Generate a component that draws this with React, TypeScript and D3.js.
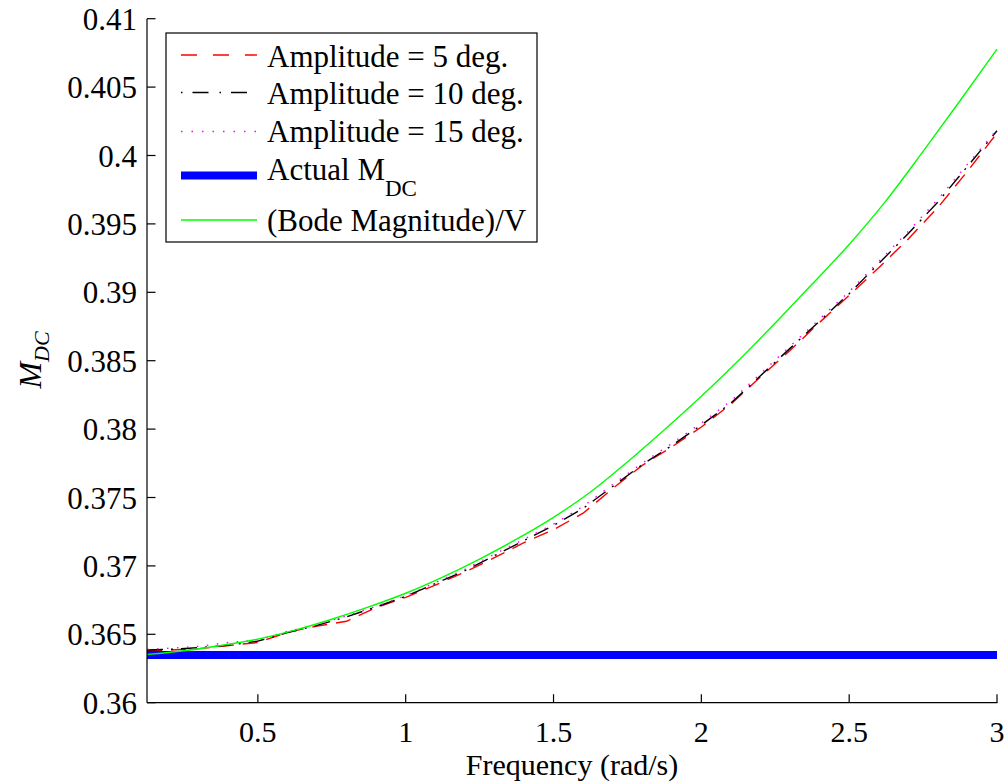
import React from "react";
import * as d3 from "d3";

const freq = [0.125, 0.2, 0.3, 0.4, 0.5, 0.6, 0.7, 0.8, 0.9, 1.0, 1.1, 1.2, 1.3, 1.4, 1.5, 1.6, 1.7, 1.8, 1.9, 2.0, 2.1, 2.2, 2.3, 2.4, 2.5, 2.6, 2.7, 2.8, 2.9, 3.0];
const amp5 = [0.3638, 0.36385, 0.36395, 0.36418, 0.3644, 0.36515, 0.3656, 0.36595, 0.36695, 0.3677, 0.3686, 0.36955, 0.3706, 0.3717, 0.37265, 0.37385, 0.37565, 0.37735, 0.3787, 0.38015, 0.38182, 0.38382, 0.38575, 0.3878, 0.38978, 0.3918, 0.3939, 0.3962, 0.39885, 0.40164];
const amp10 = [0.36385, 0.3639, 0.36402, 0.3642, 0.3645, 0.36512, 0.36565, 0.36628, 0.367, 0.36778, 0.3687, 0.36965, 0.37075, 0.37185, 0.37295, 0.3742, 0.3758, 0.3774, 0.3788, 0.3803, 0.3819, 0.3839, 0.3859, 0.3879, 0.3899, 0.3921, 0.3943, 0.3966, 0.3992, 0.40181];
const amp15 = [0.3639, 0.36398, 0.36412, 0.3644, 0.36458, 0.36522, 0.3657, 0.36635, 0.36705, 0.36782, 0.36878, 0.36975, 0.37085, 0.37195, 0.37305, 0.37435, 0.37595, 0.3775, 0.37895, 0.38045, 0.38205, 0.38405, 0.38605, 0.38805, 0.39005, 0.39225, 0.39445, 0.3968, 0.39935, 0.4019];

const bodeFreq = [0.125, 0.25, 0.375, 0.5, 0.625, 0.75, 0.875, 1.0, 1.125, 1.25, 1.375, 1.5, 1.625, 1.75, 1.875, 2.0, 2.125, 2.25, 2.375, 2.5, 2.625, 2.75, 2.875, 3.0];
const bodeMag = [0.36353, 0.3638, 0.36418, 0.36465, 0.3653, 0.3661, 0.367, 0.368, 0.36918, 0.3705, 0.37195, 0.37355, 0.3754, 0.3776, 0.37995, 0.3824, 0.385, 0.38775, 0.3906, 0.3935, 0.3967, 0.4003, 0.404, 0.40778];

const actualMdc = 0.36349;

const xTicks = [0.5, 1, 1.5, 2, 2.5, 3];
const xTickLabels = ["0.5", "1", "1.5", "2", "2.5", "3"];
const yTicks = [0.36, 0.365, 0.37, 0.375, 0.38, 0.385, 0.39, 0.395, 0.4, 0.405, 0.41];
const yTickLabels = ["0.36", "0.365", "0.37", "0.375", "0.38", "0.385", "0.39", "0.395", "0.4", "0.405", "0.41"];

const legendLabels = ["Amplitude = 5 deg.", "Amplitude = 10 deg.", "Amplitude = 15 deg.", "Actual M", "(Bode Magnitude)/V"];

export default function App() {
  const W = 1008, H = 782;
  const x = d3.scaleLinear().domain([0.125, 3]).range([147, 997]);
  const y = d3.scaleLinear().domain([0.36, 0.41]).range([702.7, 18.7]);
  const line = d3.line<[number, number]>().x(d => x(d[0])).y(d => y(d[1]));
  const mk = (fs: number[], vs: number[]) => line(fs.map((f, i) => [f, vs[i]] as [number, number])) || "";
  const font = "'Liberation Serif', 'Times New Roman', Times, serif";
  const fs = 31;
  const fsx = 30;

  const styles = [
    { stroke: "#ff0000", width: 1.4, dash: "15,9" },
    { stroke: "#000000", width: 1.4, dash: "16,8,2,8" },
    { stroke: "#ff00ff", width: 1.4, dash: "1.5,8.5" },
    { stroke: "#0000ff", width: 8, dash: "" },
    { stroke: "#00ff00", width: 1.4, dash: "" },
  ];
  const legendDash = ["16,16", "1.5,10,16,11", "1.5,9", "", ""];
  const legendY = [55, 92.5, 131.5, 175.5, 220];
  const legendBase = [66.5, 103.5, 141.5, 179.5, 230.5];
  const lx = 166, ly = 33, lw = 371, lh = 209;

  return (
    <svg width={W} height={H} style={{ position: "absolute", left: 0, top: 0, background: "#fff", fontFamily: font }}>
      <rect x={0} y={0} width={W} height={H} fill="#fff" />
      {/* data lines */}
      <path d={mk(freq, amp5)} fill="none" stroke={styles[0].stroke} strokeWidth={styles[0].width} strokeDasharray={styles[0].dash} />
      <path d={mk(freq, amp10)} fill="none" stroke={styles[1].stroke} strokeWidth={styles[1].width} strokeDasharray={styles[1].dash} />
      <path d={mk(freq, amp15)} fill="none" stroke={styles[2].stroke} strokeWidth={styles[2].width} strokeDasharray={styles[2].dash} />
      <line x1={x(0.125)} x2={x(3)} y1={y(actualMdc)} y2={y(actualMdc)} stroke={styles[3].stroke} strokeWidth={styles[3].width} />
      <path d={d3.line<[number, number]>().x(d => x(d[0])).y(d => y(d[1])).curve(d3.curveMonotoneX)(bodeFreq.map((f, i) => [f, bodeMag[i]] as [number, number])) || ""} fill="none" stroke={styles[4].stroke} strokeWidth={styles[4].width} />

      {/* axes */}
      <line x1={147} x2={997.5} y1={702.7} y2={702.7} stroke="#000" strokeWidth={1.2} />
      <line x1={147} x2={147} y1={18.7} y2={702.7} stroke="#000" strokeWidth={1.2} />
      {xTicks.map((t, i) => (
        <g key={"xt" + i}>
          <line x1={x(t)} x2={x(t)} y1={702.7} y2={694.2} stroke="#000" strokeWidth={1.2} />
          <text x={x(t)} y={741.5} textAnchor="middle" fontSize={fsx} fill="#000" style={{ fontFamily: font }}>{xTickLabels[i]}</text>
        </g>
      ))}
      {yTicks.map((t, i) => (
        <g key={"yt" + i}>
          <line x1={147} x2={155.5} y1={y(t)} y2={y(t)} stroke="#000" strokeWidth={1.2} />
          <text x={137} y={y(t) + 11} textAnchor="end" fontSize={fs} fill="#000" style={{ fontFamily: font }}>{yTickLabels[i]}</text>
        </g>
      ))}
      <text x={572} y={775} textAnchor="middle" fontSize={fsx} fill="#000" style={{ fontFamily: font }}>Frequency (rad/s)</text>
      <text transform="translate(41,360) rotate(-90)" textAnchor="middle" fill="#000" fontStyle="italic" style={{ fontFamily: font }}>
        <tspan fontSize={32}>M</tspan>
        <tspan fontSize={22} dy={8}>DC</tspan>
      </text>

      {/* legend */}
      <rect x={lx} y={ly} width={lw} height={lh} fill="#fff" stroke="#000" strokeWidth={1.2} />
      {legendLabels.map((lab, i) => (
        <g key={"lg" + i}>
          <line x1={181} x2={257} y1={legendY[i]} y2={legendY[i]} stroke={styles[i].stroke} strokeWidth={i === 3 ? 8 : 1.4} strokeDasharray={legendDash[i]} />
          <text x={267} y={legendBase[i]} fontSize={fs} fill="#000" style={{ fontFamily: font }}>
            {lab}
            {i === 3 ? <tspan fontSize={23} dy={16.5}>DC</tspan> : null}
          </text>
        </g>
      ))}
    </svg>
  );
}
